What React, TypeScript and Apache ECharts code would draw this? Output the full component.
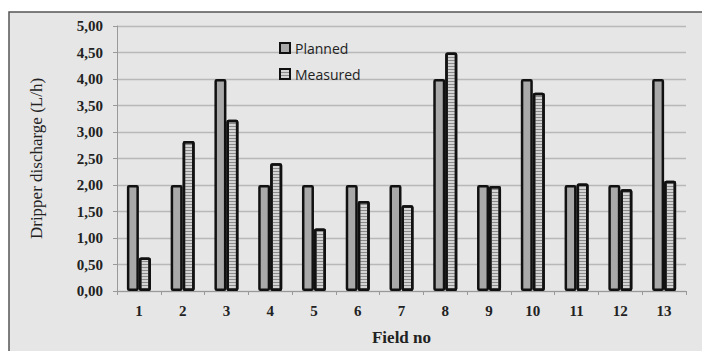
import React, { useEffect, useRef } from "react";
import * as echarts from "echarts";

const categories = ["1", "2", "3", "4", "5", "6", "7", "8", "9", "10", "11", "12", "13"];
const planned = [2, 2, 4, 2, 2, 2, 2, 4, 2, 4, 2, 2, 4];
const measured = [0.63, 2.83, 3.23, 2.41, 1.18, 1.7, 1.62, 4.5, 1.98, 3.74, 2.03, 1.92, 2.08];

export default function App() {
  const ref = useRef<HTMLDivElement>(null);
  useEffect(() => {
    if (!ref.current) return;
    const chart = echarts.init(ref.current, undefined, { renderer: "svg" });
    const serif = "Liberation Serif";
    chart.setOption({
      animation: false,
      backgroundColor: "#ffffff",
      graphic: [
        {
          type: "rect",
          shape: { x: 9, y: 12, width: 700, height: 345 },
          style: { fill: "#e6e6e6", stroke: "#555555", lineWidth: 1.5 },
          z: -10,
          silent: true,
        },
      ],
      grid: { left: 117, right: 16, top: 26, bottom: 56 },
      legend: {
        orient: "vertical",
        left: 274,
        top: 36,
        itemGap: 12,
        itemWidth: 10,
        itemHeight: 10,
        icon: "rect",
        textStyle: { fontFamily: "Open Sans", fontSize: 14, color: "#222" },
        data: ["Planned", "Measured"],
      },
      xAxis: {
        type: "category",
        data: categories,
        name: "Field no",
        nameLocation: "middle",
        nameGap: 38,
        nameTextStyle: { fontFamily: serif, fontSize: 17, fontWeight: "bold", color: "#222" },
        axisLine: { lineStyle: { color: "#999" } },
        axisTick: { show: true, length: 4, lineStyle: { color: "#999" } },
        axisLabel: { fontFamily: serif, fontSize: 15, fontWeight: "bold", color: "#222", margin: 12 },
      },
      yAxis: {
        type: "value",
        min: 0,
        max: 5,
        interval: 0.5,
        name: "Dripper discharge (L/h)",
        nameLocation: "middle",
        nameGap: 72,
        nameTextStyle: { fontFamily: serif, fontSize: 17, color: "#222" },
        axisLine: { show: true, lineStyle: { color: "#999" } },
        axisTick: { show: true, length: 4, lineStyle: { color: "#999" } },
        splitLine: { lineStyle: { color: "#b8b8b8", width: 1.3 } },
        axisLabel: {
          fontFamily: serif,
          fontSize: 15,
          fontWeight: "bold",
          color: "#222",
          margin: 14,
          formatter: (v: number) => v.toFixed(2).replace(".", ","),
        },
      },
      series: [
        {
          name: "Planned",
          type: "bar",
          data: planned,
          barWidth: 12,
          barGap: "0%",
          itemStyle: { color: "#a9a9a9", borderColor: "#111", borderWidth: 2.5, borderRadius: 1 },
        },
        {
          name: "Measured",
          type: "bar",
          data: measured,
          barWidth: 12,
          itemStyle: {
            color: "#d4d4d4",
            borderColor: "#111",
            borderWidth: 2.5,
            borderRadius: 1,
            decal: {
              symbol: "rect",
              color: "rgba(90,90,90,0.6)",
              dashArrayX: [1, 0],
              dashArrayY: [1, 2],
              symbolSize: 1,
              rotation: 0,
            },
          },
        },
      ],
    });
    return () => chart.dispose();
  }, []);
  return (
    <div
      ref={ref}
      style={{ position: "fixed", left: 0, top: 0, width: 702, height: 351 }}
    />
  );
}
